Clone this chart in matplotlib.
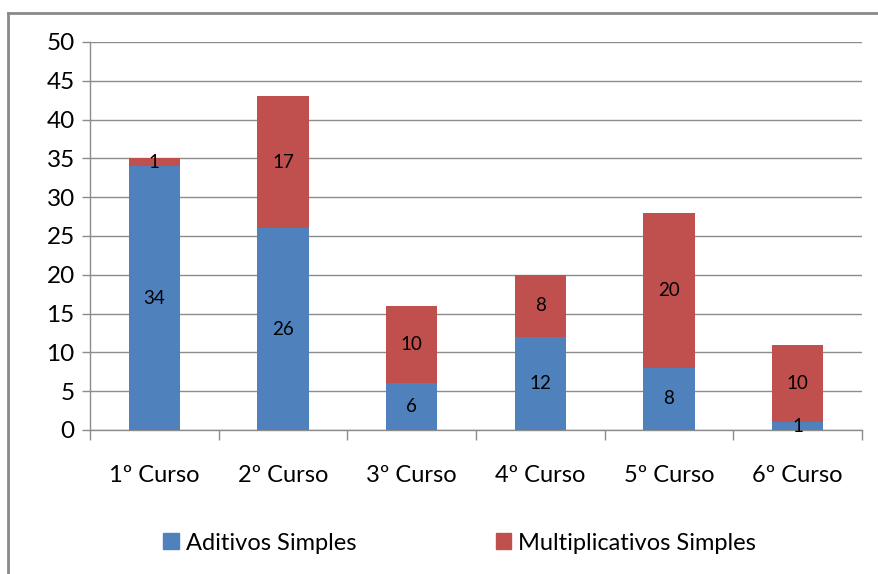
import matplotlib
matplotlib.use("Agg")
import matplotlib.pyplot as plt
import numpy as np
from matplotlib.lines import Line2D
from matplotlib.patches import Patch

plt.rcParams["font.family"] = ["Lato", "DejaVu Sans"]

cursos = ["1º Curso", "2º Curso", "3º Curso", "4º Curso", "5º Curso", "6º Curso"]
aditivos = [34, 26, 6, 12, 8, 1]
multiplicativos = [1, 17, 10, 8, 20, 10]
series_names = ["Aditivos Simples", "Multiplicativos Simples"]
y_ticks = list(range(0, 51, 5))

BLUE = "#4F81BD"
RED = "#C0504D"
GRID = "#8c8c8c"

fig = plt.figure(figsize=(8.79, 5.74), dpi=100)
ax = fig.add_axes([90 / 879, 144 / 574, 772 / 879, 388 / 574])

x = np.arange(len(cursos))
w = 0.4
b1 = ax.bar(x, aditivos, w, color=BLUE, zorder=3)
b2 = ax.bar(x, multiplicativos, w, bottom=aditivos, color=RED, zorder=3)

# value labels centred in each segment
for bars, vals, base in ((b1, aditivos, [0] * len(aditivos)), (b2, multiplicativos, aditivos)):
    for rect, v, b in zip(bars, vals, base):
        ax.text(rect.get_x() + rect.get_width() / 2, b + v / 2, str(v),
                ha="center", va="center", fontsize=13.5, color="black", zorder=4)

ax.set_xlim(-0.5, len(cursos) - 0.5)
ax.set_ylim(0, 50)
ax.set_yticks(y_ticks)
ax.yaxis.grid(True, color=GRID, lw=1.0, zorder=0)
ax.set_xticks(x)
ax.set_xticklabels(cursos, fontsize=17)
ax.set_xticks(np.arange(-0.5, len(cursos)), minor=True)
ax.tick_params(axis="x", which="major", length=0, pad=25)
ax.tick_params(axis="x", which="minor", length=7, color=GRID, width=1)
ax.tick_params(axis="y", length=6, color=GRID, width=1, labelsize=17.5, pad=5)

for side in ("top", "right"):
    ax.spines[side].set_visible(False)
for side in ("left", "bottom"):
    ax.spines[side].set_color(GRID)
    ax.spines[side].set_linewidth(1.0)

handles = [Patch(color=BLUE), Patch(color=RED)]
fig.legend(handles, series_names, loc="center", bbox_to_anchor=(0.523, 31 / 574),
           ncol=2, frameon=False, fontsize=17, handlelength=0.65, handleheight=0.65,
           handletextpad=0.3, columnspacing=5.9)

# outer chart border (top and left edges visible)
fig.add_artist(Line2D([8 / 879, 8 / 879], [0, 1 - 13 / 574], color="#8a8a8a", lw=2))
fig.add_artist(Line2D([8 / 879, 1], [1 - 13 / 574, 1 - 13 / 574], color="#8a8a8a", lw=2))

fig.savefig("out.png", dpi=100)
